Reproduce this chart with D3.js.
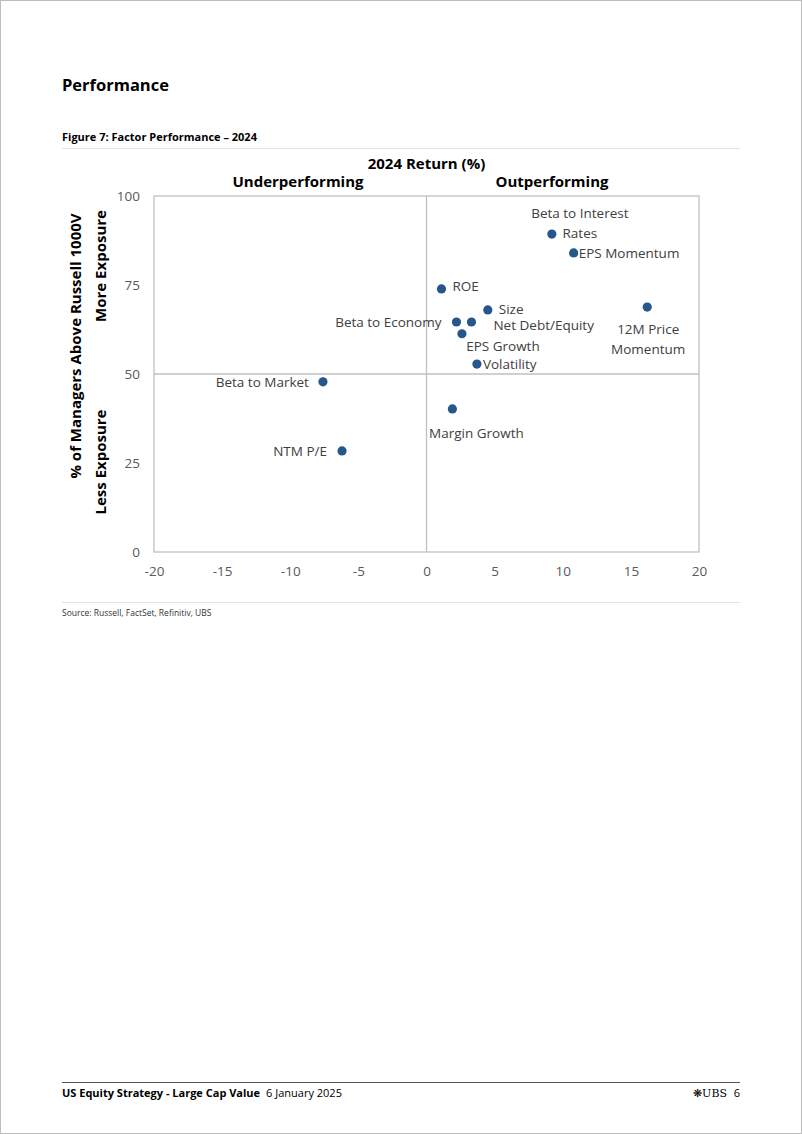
<!DOCTYPE html>
<html><head><meta charset="utf-8">
<script src="https://cdn.jsdelivr.net/npm/d3@7"></script>
<style>
html,body{margin:0;padding:0;background:#fff;}
svg{display:block;}
</style></head>
<body>
<svg id="c" width="802" height="1134"></svg>
<script>
// ---- data ----
const factors = ["Beta to Interest Rates","EPS Momentum","ROE","Size","12M Price Momentum","Beta to Economy","Net Debt/Equity","EPS Growth","Volatility","Beta to Market","Margin Growth","NTM P/E"];
const returns2024 = [9.2, 10.8, 1.1, 4.5, 16.2, 2.2, 3.3, 2.6, 3.7, -7.6, 1.9, -6.2];
const pctAbove = [89.3, 84.0, 73.9, 68.0, 68.8, 64.6, 64.6, 61.3, 52.8, 47.8, 40.2, 28.4];
const xTicks = [-20,-15,-10,-5,0,5,10,15,20];
const yTicks = [0,25,50,75,100];

// label layout (lines, dx, dy of first line, anchor)
const labelLayout = {
  "Beta to Interest Rates": {lines:["Beta to Interest","Rates"], dx:28, dy:-21, anchor:"middle"},
  "EPS Momentum": {lines:["EPS Momentum"], dx:5, dy:0, anchor:"start"},
  "ROE": {lines:["ROE"], dx:11, dy:-3, anchor:"start"},
  "Size": {lines:["Size"], dx:11, dy:-1, anchor:"start"},
  "12M Price Momentum": {lines:["12M Price","Momentum"], dx:1, dy:22, anchor:"middle"},
  "Beta to Economy": {lines:["Beta to Economy"], dx:-15, dy:0, anchor:"end"},
  "Net Debt/Equity": {lines:["Net Debt/Equity"], dx:22, dy:3, anchor:"start"},
  "EPS Growth": {lines:["EPS Growth"], dx:41, dy:12, anchor:"middle"},
  "Volatility": {lines:["Volatility"], dx:6, dy:0, anchor:"start"},
  "Beta to Market": {lines:["Beta to Market"], dx:-14, dy:0, anchor:"end"},
  "Margin Growth": {lines:["Margin Growth"], dx:24, dy:24, anchor:"middle"},
  "NTM P/E": {lines:["NTM P/E"], dx:-15, dy:0, anchor:"end"}
};

const svg = d3.select("#c");
const FONT = "'Open Sans', 'Noto Sans', sans-serif";

// page border
svg.append("rect").attr("x",0.5).attr("y",0.5).attr("width",801).attr("height",1133)
  .attr("fill","none").attr("stroke","#bdbdbd");

// header
svg.append("text").attr("x",62).attr("y",91).text("Performance")
  .attr("font-family",FONT).attr("font-weight","bold").attr("font-size",16.5).attr("fill","#000");
svg.append("text").attr("x",62).attr("y",141).text("Figure 7: Factor Performance – 2024")
  .attr("font-family",FONT).attr("font-weight","bold").attr("font-size",11).attr("fill","#000");
svg.append("line").attr("x1",62).attr("x2",740).attr("y1",148.5).attr("y2",148.5).attr("stroke","#e3e3e3");

// chart
const x = d3.scaleLinear().domain([-20,20]).range([154,699]);
const y = d3.scaleLinear().domain([0,100]).range([552,196]);

const g = svg.append("g");
g.append("rect").attr("x",x(-20)).attr("y",y(100)).attr("width",x(20)-x(-20)).attr("height",y(0)-y(100))
  .attr("fill","none").attr("stroke","#c0c0c0").attr("stroke-width",1.3);
g.append("line").attr("x1",x(0)).attr("x2",x(0)).attr("y1",y(0)).attr("y2",y(100)).attr("stroke","#c0c0c0").attr("stroke-width",1.3);
g.append("line").attr("x1",x(-20)).attr("x2",x(20)).attr("y1",y(50)).attr("y2",y(50)).attr("stroke","#c0c0c0").attr("stroke-width",1.3);

const xAxis = g.append("g").attr("transform",`translate(0,${y(0)})`)
  .call(d3.axisBottom(x).tickValues(xTicks).tickFormat(d=>String(d)).tickSize(0).tickPadding(14));
const yAxis = g.append("g").attr("transform",`translate(${x(-20)},0)`)
  .call(d3.axisLeft(y).tickValues(yTicks).tickFormat(d=>String(d)).tickSize(0).tickPadding(14));
[xAxis,yAxis].forEach(a=>{
  a.select(".domain").remove();
  a.selectAll("text").attr("font-family",FONT).attr("font-size",13.5).attr("fill","#595959");
});

g.append("text").attr("x",x(0)).attr("y",169).attr("text-anchor","middle").text("2024 Return (%)")
  .attr("font-family",FONT).attr("font-weight","bold").attr("font-size",15).attr("fill","#000");
g.append("text").attr("x",298).attr("y",187).attr("text-anchor","middle").text("Underperforming")
  .attr("font-family",FONT).attr("font-weight","bold").attr("font-size",15).attr("fill","#000");
g.append("text").attr("x",552).attr("y",187).attr("text-anchor","middle").text("Outperforming")
  .attr("font-family",FONT).attr("font-weight","bold").attr("font-size",15).attr("fill","#000");

const yt = (txt,cx,cy)=> g.append("text").attr("transform",`translate(${cx},${cy}) rotate(-90)`)
  .attr("text-anchor","middle").attr("font-family",FONT).attr("font-weight","bold").attr("font-size",15)
  .attr("fill","#000").text(txt);
yt("% of Managers Above Russell 1000V",81,346);
yt("More Exposure",106,266);
yt("Less Exposure",106,462);

const data = factors.map((f,i)=>({name:f, x:returns2024[i], y:pctAbove[i]}));
g.selectAll("circle.pt").data(data).join("circle").attr("class","pt")
  .attr("cx",d=>x(d.x)).attr("cy",d=>y(d.y)).attr("r",4.6).attr("fill","#25578a");

data.forEach(d=>{
  const L = labelLayout[d.name];
  const t = g.append("text").attr("font-family",FONT).attr("font-size",13.5).attr("fill","#404040")
    .attr("text-anchor",L.anchor);
  L.lines.forEach((ln,k)=>{
    t.append("tspan").attr("x",x(d.x)+L.dx).attr("y",y(d.y)+L.dy+5+k*20).text(ln);
  });
});

svg.append("line").attr("x1",62).attr("x2",740).attr("y1",602.5).attr("y2",602.5).attr("stroke","#e3e3e3");
svg.append("text").attr("x",62).attr("y",616).text("Source: Russell, FactSet, Refinitiv, UBS")
  .attr("font-family",FONT).attr("font-size",8.5).attr("fill","#333");

svg.append("line").attr("x1",62).attr("x2",740).attr("y1",1082.5).attr("y2",1082.5).attr("stroke","#555").attr("stroke-width",1);
const ft = svg.append("text").attr("x",62).attr("y",1097).attr("font-family",FONT).attr("font-size",11).attr("fill","#000");
ft.append("tspan").attr("font-weight","bold").text("US Equity Strategy - Large Cap Value");
ft.append("tspan").attr("dx",6).text("6 January 2025");
svg.append("text").attr("x",727).attr("y",1097).attr("text-anchor","end")
  .attr("font-family","'DejaVu Serif', serif").attr("font-size",11).attr("fill","#000").text("❋UBS");
svg.append("text").attr("x",740).attr("y",1097).attr("text-anchor","end")
  .attr("font-family",FONT).attr("font-size",11).attr("fill","#000").text("6");
</script>
</body></html>
